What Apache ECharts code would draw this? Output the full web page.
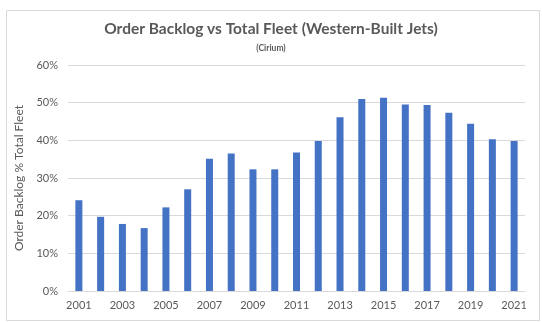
<!DOCTYPE html>
<html>
<head>
<meta charset="utf-8">
<script src="https://cdn.jsdelivr.net/npm/echarts@6/dist/echarts.min.js"></script>
<style>
html,body{margin:0;padding:0;background:#fff;}
#c{width:542px;height:322px;}
</style>
</head>
<body>
<div id="c"></div>
<script>
var years = ['2001','2002','2003','2004','2005','2006','2007','2008','2009','2010','2011','2012','2013','2014','2015','2016','2017','2018','2019','2020','2021'];
var backlogPct = [24.1, 19.7, 17.8, 16.7, 22.2, 27.0, 35.1, 36.5, 32.3, 32.3, 36.8, 39.8, 46.1, 51.0, 51.3, 49.5, 49.4, 47.3, 44.4, 40.3, 39.8];
var titleText = 'Order Backlog vs Total Fleet (Western-Built Jets)';
var subtitleText = '(Cirium)';
var yAxisName = 'Order Backlog % Total Fleet';

var FONT = 'Lato';
var chart = echarts.init(document.getElementById('c'), null, {renderer:'canvas'});
chart.setOption({
  animation: false,
  backgroundColor: '#fff',
  graphic: [{
    type: 'rect', left: 4, top: 8,
    shape: {width: 533, height: 310},
    style: {fill: 'none', stroke: '#D9D9D9', lineWidth: 1},
    silent: true
  }],
  title: [{
    text: titleText,
    left: 'center', top: 16,
    textStyle: {fontFamily: FONT, fontWeight: 'bold', fontSize: 15.5, color: '#595959'}
  },{
    text: subtitleText,
    left: 'center', top: 39,
    textStyle: {fontFamily: FONT, fontWeight: 'bold', fontSize: 8.5, color: '#595959'}
  }],
  grid: {left: 68, right: 17, top: 65, bottom: 31, containLabel: false},
  xAxis: {
    type: 'category',
    data: years,
    axisLine: {lineStyle: {color: '#D9D9D9'}},
    axisTick: {show: false},
    axisLabel: {interval: 1, color: '#595959', fontFamily: FONT, fontSize: 11, margin: 9}
  },
  yAxis: {
    type: 'value',
    min: 0, max: 60, interval: 10,
    name: yAxisName,
    nameLocation: 'middle',
    nameGap: 42,
    nameTextStyle: {color: '#595959', fontFamily: FONT, fontSize: 12},
    axisLine: {show: false},
    axisTick: {show: false},
    splitLine: {lineStyle: {color: '#D9D9D9', width: 1}},
    axisLabel: {formatter: '{value}%', color: '#595959', fontFamily: FONT, fontSize: 11, margin: 10}
  },
  series: [{
    type: 'bar',
    data: backlogPct,
    barWidth: 7,
    itemStyle: {color: '#4472C4'}
  }]
});
</script>
</body>
</html>
